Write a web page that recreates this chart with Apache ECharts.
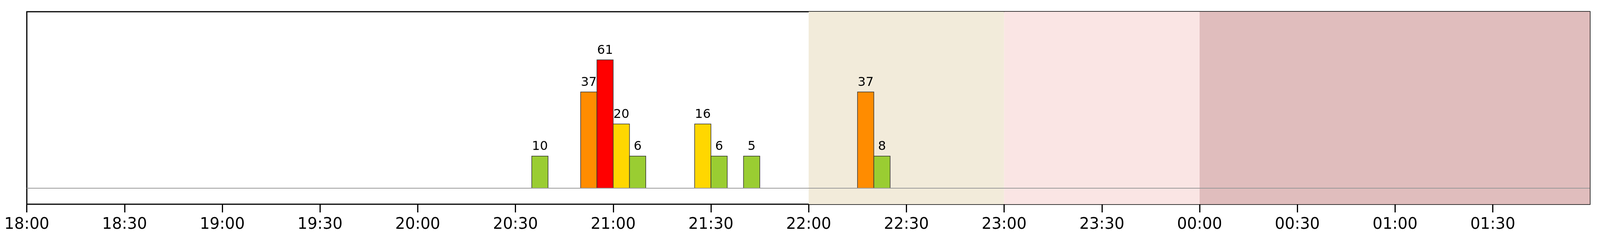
<!DOCTYPE html>
<html><head><meta charset="utf-8">
<script src="https://cdn.jsdelivr.net/npm/echarts@6/dist/echarts.min.js"></script>
<style>html,body{margin:0;padding:0;background:#fff;overflow:hidden}#c{width:100vw;height:100vh}</style>
</head><body><div id="c"></div>
<script>
// bar start times (5-minute bins)
const startTimes = ["20:35","20:50","20:55","21:00","21:05","21:25","21:30","21:40","22:15","22:20"];
const levels = [1,3,4,2,1,2,1,1,3,1];
const counts = [10,37,61,20,6,16,6,5,37,8];
const levelColors = {1:"#9acd32",2:"#ffd700",3:"#ff8c00",4:"#ff0000"};
const tickLabels = ["18:00","18:30","19:00","19:30","20:00","20:30","21:00","21:30","22:00","22:30","23:00","23:30","00:00","00:30","01:00","01:30"];
const bands = [["22:00","23:00","#f2ebda"],["23:00","00:00","#fae5e4"],["00:00","02:00","#e0bdbd"]];
const binMinutes = 5;

function toMin(s){let [h,m]=s.split(":").map(Number); if(h<12)h+=24; return (h-18)*60+m;}
const data = startTimes.map((t,i)=>[toMin(t), toMin(t)+binMinutes, levels[i], counts[i]]);

const el=document.getElementById('c');
const W=el.clientWidth, H=el.clientHeight, s=W/5370, t=H/630;
const chart = echarts.init(el);
chart.setOption({
  animation:false,
  grid:{left:90*s,right:34*s,top:30*t,bottom:107*t,show:true,borderColor:'#000',borderWidth:3*t,backgroundColor:'transparent'},
  xAxis:{type:'value',min:0,max:479.8,interval:30,
    axisLine:{show:false,onZero:false},
    axisTick:{show:true,inside:false,length:21*t,lineStyle:{color:'#000',width:3*t}},
    splitLine:{show:false},
    axisLabel:{fontSize:40*t,color:'#000',fontFamily:'DejaVu Sans',margin:33*t,showMaxLabel:false,
      formatter:v=>{const i=Math.round(v/30);return i<tickLabels.length?tickLabels[i]:'';}}},
  yAxis:{type:'value',min:-0.5,max:5.5,show:false,splitLine:{show:false}},
  series:[
    {type:'line',data:[],markArea:{silent:true,data:bands.map(b=>[{xAxis:toMin(b[0]),itemStyle:{color:b[2]}},{xAxis:toMin(b[1])}])},
      markLine:{silent:true,symbol:'none',label:{show:false},lineStyle:{color:'#999',width:2*t,type:'solid'},data:[{yAxis:0}]}},
    {type:'custom',data:data,encode:{x:[0,1],y:2},
      renderItem:(params,api)=>{
        const p0=api.coord([api.value(0),api.value(2)]);
        const p1=api.coord([api.value(1),0]);
        const lv=api.value(2);
        return {type:'group',children:[
          {type:'rect',shape:{x:p0[0],y:p0[1],width:p1[0]-p0[0],height:p1[1]-p0[1]},
           style:{fill:levelColors[lv],stroke:'#333',lineWidth:1.5*t}},
          {type:'text',style:{text:String(api.value(3)),x:(p0[0]+p1[0])/2,y:p0[1]-8*t,
           align:'center',verticalAlign:'bottom',fontSize:32*t,fontFamily:'DejaVu Sans',fill:'#000'}}
        ]};
      }}
  ]
});
</script></body></html>
